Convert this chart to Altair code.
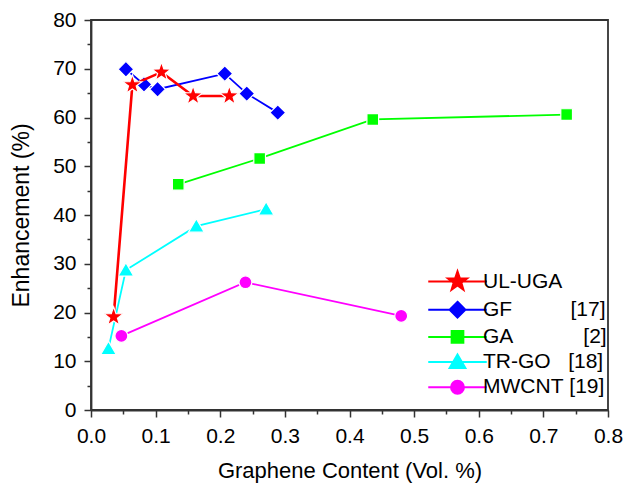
import math
import altair as alt
import pandas as pd

# ---------------- data ----------------
series_names = ["UL-UGA", "GF", "GA", "TR-GO", "MWCNT"]
series_refs = ["", "[17]", "[2]", "[18]", "[19]"]

ul_uga_x = [0.035, 0.064, 0.109, 0.158, 0.214]
ul_uga_y = [19.1, 66.7, 69.3, 64.4, 64.4]

gf_x = [0.054, 0.082, 0.103, 0.207, 0.241, 0.289]
gf_y = [69.9, 66.8, 65.8, 69.0, 64.9, 61.0]

ga_x = [0.135, 0.261, 0.436, 0.736]
ga_y = [46.3, 51.6, 59.6, 60.6]

trgo_x = [0.027, 0.054, 0.163, 0.271]
trgo_y = [12.6, 28.7, 37.7, 41.2]

mwcnt_x = [0.047, 0.239, 0.480]
mwcnt_y = [15.2, 26.2, 19.3]

x_ticks = [round(i * 0.05, 2) for i in range(17)]
y_ticks = [i * 5 for i in range(17)]

# ---------------- styles ----------------
FONT = "Liberation Sans"
colors = ["#FF0000", "#0000FF", "#00FF00", "#00FFFF", "#FF00FF"]
line_widths = [2.6, 1.8, 1.8, 1.8, 1.8]


def star_path(ro, ri):
    pts = []
    for k in range(10):
        a = math.radians(-90 + 36 * k)
        r = ro if k % 2 == 0 else ri
        pts.append(f"{r * math.cos(a):.3f},{r * math.sin(a):.3f}")
    return "M" + "L".join(pts) + "Z"


marker_paths = [
    star_path(1.35, 0.54),
    "M0,-1.05L1.05,0L0,1.05L-1.05,0Z",
    "M-0.78,-0.78L0.78,-0.78L0.78,0.78L-0.78,0.78Z",
    "M0,-1.0L1.05,0.8L-1.05,0.8Z",
    "M0.86,0A0.86,0.86,0,1,1,-0.86,0A0.86,0.86,0,1,1,0.86,0Z",
]
stub = "M-3.9,0L3.9,0"
legend_paths = [stub + p for p in marker_paths]

# legend labels with right-aligned reference numbers
CW = {"U": 722, "L": 556, "-": 333, "G": 778, "A": 667, "F": 611, "T": 611,
      "R": 722, "O": 778, "M": 833, "W": 944, "C": 722, "N": 722, "[": 278,
      "]": 278, " ": 278}
LEG_FS = 21
TARGET = 121.0


def text_w(s):
    return sum(CW.get(c, 556) for c in s) * LEG_FS / 1000.0


labels = []
for name, ref in zip(series_names, series_refs):
    if ref:
        n = max(1, round((TARGET - text_w(name) - text_w(ref)) / (0.278 * LEG_FS)))
        labels.append(name + "\u00a0" * n + ref)
    else:
        labels.append(name)

xs = [ul_uga_x, gf_x, ga_x, trgo_x, mwcnt_x]
ys = [ul_uga_y, gf_y, ga_y, trgo_y, mwcnt_y]

rows = []
for lab, sx, sy in zip(labels, xs, ys):
    for a, b in zip(sx, sy):
        rows.append({"series": lab, "x": a, "y": b})
df = pd.DataFrame(rows)

x_enc = alt.X(
    "x:Q",
    scale=alt.Scale(domain=[0, 0.8], nice=False, zero=False),
    axis=alt.Axis(
        values=x_ticks,
        title="Graphene Content (Vol. %)",
        labelExpr="(round(datum.value*100) % 10 == 0) ? format(datum.value, '.1f') : ''",
        tickSize={"condition": {"test": "round(datum.value*100) % 10 != 0", "value": 4}, "value": 7},
        labelFlush=False,
        labelOverlap=False,
        labelPadding=8,
        titlePadding=14,
        titleFontSize=22,
    ),
)
y_enc = alt.Y(
    "y:Q",
    scale=alt.Scale(domain=[0, 80], nice=False),
    axis=alt.Axis(
        values=y_ticks,
        title="Enhancement (%)",
        labelExpr="(datum.value % 10 == 0) ? format(datum.value, 'd') : ''",
        tickSize={"condition": {"test": "datum.value % 10 != 0", "value": 4}, "value": 7},
        labelFlush=False,
        labelOverlap=False,
        labelPadding=8,
        titlePadding=19,
    ),
)

layers = []
order = [4, 3, 2, 1, 0]  # draw UL-UGA last (on top)
for i in order:
    sub = alt.Chart(df).transform_filter(alt.datum.series == labels[i])
    layers.append(
        sub.mark_line(color=colors[i], strokeWidth=line_widths[i]).encode(x=x_enc, y=y_enc)
    )
    layers.append(
        sub.mark_point(
            shape=marker_paths[i], size=225, filled=True, fill=colors[i],
            stroke="white", strokeWidth=1.2, opacity=1,
        ).encode(x=x_enc, y=y_enc)
    )

legend = alt.Legend(
    title=None,
    orient="none",
    legendX=356,
    legendY=251,
    symbolSize=225,
    symbolStrokeWidth=2,
    labelOffset=15,
    labelFontSize=LEG_FS,
    labelFont=FONT,
    labelColor="black",
    labelLimit=300,
    rowPadding=3.2,
    padding=0,
)
legend_layer = (
    alt.Chart(df)
    .transform_filter("false")
    .mark_point(filled=True, opacity=1)
    .encode(
        x=x_enc,
        y=y_enc,
        fill=alt.Fill("series:N", scale=alt.Scale(domain=labels, range=colors), legend=legend),
        stroke=alt.Stroke("series:N", scale=alt.Scale(domain=labels, range=colors), legend=legend),
        shape=alt.Shape("series:N", scale=alt.Scale(domain=labels, range=legend_paths), legend=legend),
    )
)
layers.append(legend_layer)

chart = (
    alt.layer(*layers)
    .properties(
        width=517,
        height=390,
        autosize=alt.AutoSizeParams(type="none"),
        padding={"left": 83, "top": 12, "right": 15, "bottom": 73},
        background="white",
    )
    .configure_view(stroke="#333333", strokeWidth=1.8)
    .configure_axis(
        grid=False,
        domainColor="#333333",
        domainWidth=1.8,
        tickColor="#333333",
        tickWidth=1.5,
        labelFont=FONT,
        labelFontSize=21,
        labelColor="black",
        titleFont=FONT,
        titleFontSize=23,
        titleFontWeight="normal",
        titleColor="black",
    )
)

chart.save("out.html", embed_options={"renderer": "svg", "actions": False})
